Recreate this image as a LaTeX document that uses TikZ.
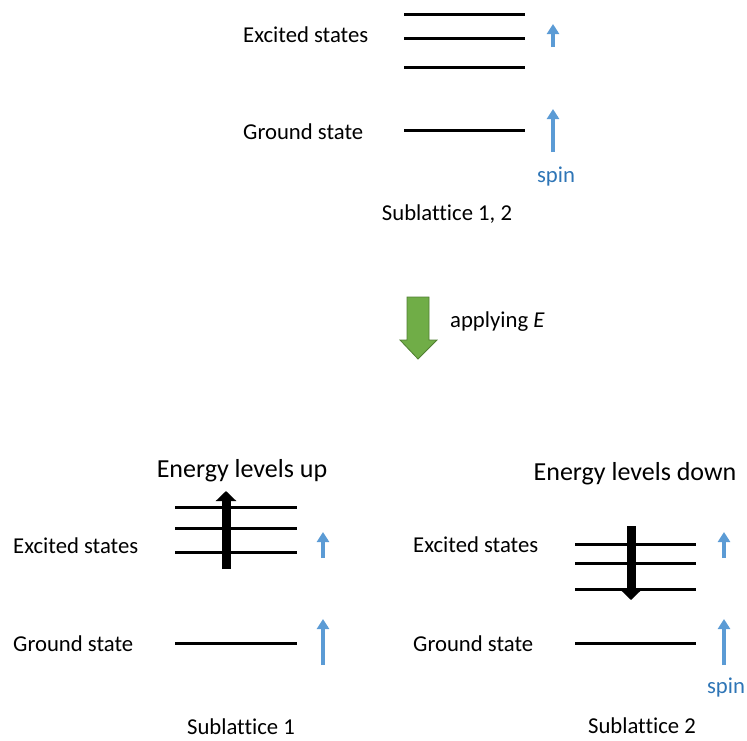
\documentclass[tikz,border=0pt]{standalone}
\usepackage{fontspec}
\setmainfont[Ligatures={NoCommon}]{Carlito}
\usetikzlibrary{arrows.meta}
\definecolor{spinblue}{HTML}{5B9BD5}
\definecolor{spintext}{HTML}{2E75B6}
\definecolor{greenfill}{HTML}{70AD47}
\definecolor{greenline}{HTML}{507E32}
\tikzset{
  lbl/.style={inner sep=0pt, anchor=base west, font=\fontsize{22.7}{26}\selectfont},
  clbl/.style={inner sep=0pt, anchor=base, font=\fontsize{22.7}{26}\selectfont},
  title/.style={inner sep=0pt, anchor=base, font=\fontsize{26}{30}\selectfont},
  spinlbl/.style={clbl, text=spintext},
  level/.style={line width=3pt},
  spinarrow/.style={draw=spinblue, line width=3.4pt, -{Triangle[width=12pt,length=10pt]}},
  shiftarrow/.style={line width=9pt, -{Triangle[width=20pt,length=10pt]}},
}
\begin{document}
\begin{tikzpicture}[x=1pt,y=-1pt]
\useasboundingbox (0,0) rectangle (747,740);
% ---------- top panel ----------
\node[lbl] (t-ex) at (243,42) {Excited states};
\node[lbl] (t-gr) at (243,139) {Ground state};
\node[clbl] (t-sub) at (447,220) {Sublattice 1, 2};
\draw[level] (404,14) coordinate (t1a) -- (525,14) coordinate (t1b);
\draw[level] (404,38) coordinate (t2a) -- (525,38) coordinate (t2b);
\draw[level] (404,67) coordinate (t3a) -- (525,67) coordinate (t3b);
\draw[level] (404,130) coordinate (tga) -- (525,130) coordinate (tgb);
\coordinate (ts1) at (553,47); \coordinate (ts2) at (553,24);
\coordinate (ts3) at (553,152); \coordinate (ts4) at (553,109);
\draw[spinarrow] (ts1) -- (ts2);
\draw[spinarrow] (ts3) -- (ts4);
\node[spinlbl] (t-spin) at (556,182) {spin};
% ---------- green arrow ----------
\draw[fill=greenfill, draw=greenline, line width=0.8pt]
  (407,297) -- (429,297) -- (429,340) -- (437,340) -- (418,359) -- (400,340) -- (407,340) -- cycle;
\node[lbl] (apply) at (450,327) {applying \textit{E}};
% ---------- bottom left ----------
\node[title] (l-title) at (242,477) {Energy levels up};
\node[lbl] (l-ex) at (13,553) {Excited states};
\node[lbl] (l-gr) at (13,651) {Ground state};
\node[clbl] (l-sub) at (241,734) {Sublattice 1};
\draw[level] (175,507) -- (297,507);
\draw[level] (175,528) -- (297,528);
\draw[level] (175,552) -- (297,552);
\draw[level] (175,643) -- (297,643);
\coordinate (la1) at (226,569); \coordinate (la2) at (226,491);
\draw[shiftarrow] (la1) -- (la2);
\coordinate (ls1) at (323,558); \coordinate (ls2) at (323,532);
\coordinate (ls3) at (323,665); \coordinate (ls4) at (323,619);
\draw[spinarrow] (ls1) -- (ls2);
\draw[spinarrow] (ls3) -- (ls4);
% ---------- bottom right ----------
\node[title] (r-title) at (635,480) {Energy levels down};
\node[lbl] (r-ex) at (413,552) {Excited states};
\node[lbl] (r-gr) at (413,651) {Ground state};
\node[clbl] (r-sub) at (642,733) {Sublattice 2};
\draw[level] (575,544) -- (696,544);
\draw[level] (575,563) -- (696,563);
\draw[level] (575,589) -- (696,589);
\draw[level] (575,643) -- (696,643);
\coordinate (ra1) at (631,526); \coordinate (ra2) at (631,600);
\draw[shiftarrow] (ra1) -- (ra2);
\coordinate (rs1) at (724,558); \coordinate (rs2) at (724,532);
\coordinate (rs3) at (724,665); \coordinate (rs4) at (724,619);
\draw[spinarrow] (rs1) -- (rs2);
\draw[spinarrow] (rs3) -- (rs4);
\node[spinlbl] (r-spin) at (726,693) {spin};
\end{tikzpicture}
\end{document}
